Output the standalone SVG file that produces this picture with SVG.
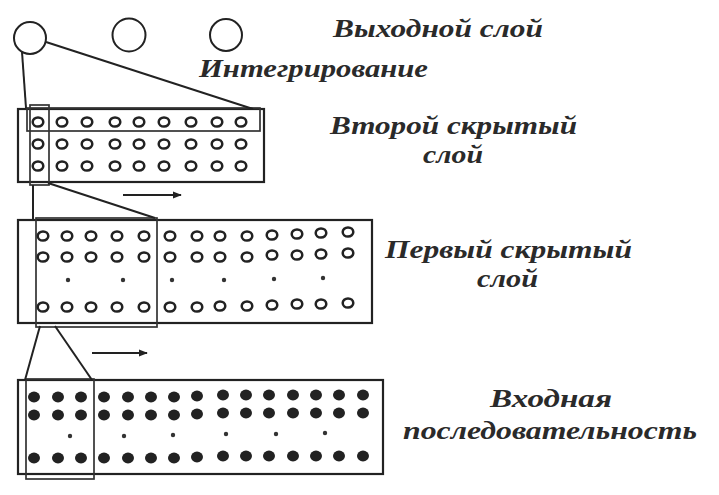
<svg xmlns="http://www.w3.org/2000/svg" width="719" height="495" viewBox="0 0 719 495">
<defs>
<style>
.box{fill:none;stroke:#222;stroke-width:2.2}
.win{fill:none;stroke:#333;stroke-width:1.7}
.out{fill:none;stroke:#222;stroke-width:2}
.ring{fill:none;stroke:#222;stroke-width:2.5}
.dot{fill:#222}
.sd{fill:#333}
.con{fill:none;stroke:#222;stroke-width:2}
.lbl{font-family:"Liberation Serif","DejaVu Serif",serif;font-style:italic;font-weight:bold;font-size:25px;fill:#2a2a2a}
</style>
<marker id="ah" viewBox="0 0 10 10" refX="9" refY="5" markerWidth="4.5" markerHeight="4.5" orient="auto" markerUnits="strokeWidth">
<path d="M0,1 L10,5 L0,9 Z" fill="#222"/>
</marker>
<ellipse id="r" class="ring" rx="5.3" ry="4.6"/>
<ellipse id="f" class="dot" rx="6" ry="5.4"/>
<circle id="s" class="sd" r="2.2"/>
</defs>
<rect width="719" height="495" fill="#fff"/>

<g id="output-layer">
<circle class="out" cx="30" cy="38" r="16"/>
<circle class="out" cx="129" cy="35" r="16.5"/>
<circle class="out" cx="226" cy="35" r="16"/>
</g>

<g id="second-hidden-layer">
<rect class="box" x="18" y="109" width="246" height="73"/>
<rect class="win" x="27" y="108" width="233" height="23"/>
<rect class="win" x="30" y="105" width="19" height="80"/>
<g>
<use href="#r" x="38" y="122"/><use href="#r" x="62" y="122"/><use href="#r" x="87" y="122"/><use href="#r" x="115" y="122"/><use href="#r" x="139" y="122"/><use href="#r" x="164" y="122"/><use href="#r" x="191" y="122"/><use href="#r" x="217" y="122"/><use href="#r" x="241" y="122"/>
<use href="#r" x="38" y="144"/><use href="#r" x="62" y="144"/><use href="#r" x="87" y="144"/><use href="#r" x="115" y="144"/><use href="#r" x="139" y="144"/><use href="#r" x="164" y="144"/><use href="#r" x="191" y="144"/><use href="#r" x="217" y="144"/><use href="#r" x="241" y="144"/>
<use href="#r" x="38" y="166"/><use href="#r" x="62" y="166"/><use href="#r" x="87" y="166"/><use href="#r" x="115" y="166"/><use href="#r" x="139" y="166"/><use href="#r" x="164" y="166"/><use href="#r" x="191" y="166"/><use href="#r" x="217" y="166"/><use href="#r" x="241" y="166"/>
</g>
</g>

<g id="first-hidden-layer">
<rect class="box" x="18" y="220" width="354" height="103"/>
<rect class="win" x="36" y="218" width="121" height="109"/>
<g>
<use href="#r" x="43" y="236"/><use href="#r" x="67" y="236"/><use href="#r" x="91" y="236"/><use href="#r" x="117" y="236"/><use href="#r" x="144" y="236"/><use href="#r" x="170" y="236"/><use href="#r" x="197" y="236"/><use href="#r" x="220" y="236"/><use href="#r" x="247" y="236"/><use href="#r" x="272" y="235"/><use href="#r" x="297" y="234"/><use href="#r" x="321" y="233"/><use href="#r" x="348" y="232"/>
<use href="#r" x="43" y="257"/><use href="#r" x="67" y="257"/><use href="#r" x="91" y="257"/><use href="#r" x="117" y="257"/><use href="#r" x="144" y="257"/><use href="#r" x="170" y="257"/><use href="#r" x="197" y="257"/><use href="#r" x="220" y="257"/><use href="#r" x="247" y="257"/><use href="#r" x="272" y="255"/><use href="#r" x="297" y="255"/><use href="#r" x="321" y="254"/><use href="#r" x="348" y="253"/>
<use href="#s" x="68" y="280"/><use href="#s" x="123" y="280"/><use href="#s" x="172" y="280"/><use href="#s" x="224" y="280"/><use href="#s" x="274" y="279"/><use href="#s" x="323" y="278"/>
<use href="#r" x="43" y="307"/><use href="#r" x="67" y="307"/><use href="#r" x="91" y="307"/><use href="#r" x="117" y="307"/><use href="#r" x="144" y="307"/><use href="#r" x="170" y="307"/><use href="#r" x="197" y="307"/><use href="#r" x="220" y="306"/><use href="#r" x="247" y="306"/><use href="#r" x="272" y="305"/><use href="#r" x="297" y="304"/><use href="#r" x="321" y="304"/><use href="#r" x="348" y="303"/>
</g>
</g>

<g id="input-sequence">
<rect class="box" x="18" y="380" width="365" height="94"/>
<rect class="win" x="26" y="379" width="68" height="100"/>
<g>
<use href="#f" x="34" y="397"/><use href="#f" x="58" y="397"/><use href="#f" x="81" y="397"/><use href="#f" x="104" y="397"/><use href="#f" x="128" y="397"/><use href="#f" x="151" y="397"/><use href="#f" x="174" y="397"/><use href="#f" x="197" y="396"/><use href="#f" x="223" y="395"/><use href="#f" x="246" y="395"/><use href="#f" x="269" y="395"/><use href="#f" x="293" y="395"/><use href="#f" x="316" y="395"/><use href="#f" x="339" y="395"/><use href="#f" x="363" y="395"/>
<use href="#f" x="34" y="415"/><use href="#f" x="58" y="415"/><use href="#f" x="81" y="415"/><use href="#f" x="104" y="415"/><use href="#f" x="128" y="415"/><use href="#f" x="151" y="415"/><use href="#f" x="174" y="415"/><use href="#f" x="197" y="414"/><use href="#f" x="223" y="413"/><use href="#f" x="246" y="413"/><use href="#f" x="269" y="413"/><use href="#f" x="293" y="413"/><use href="#f" x="316" y="413"/><use href="#f" x="339" y="413"/><use href="#f" x="363" y="413"/>
<use href="#s" x="70" y="436"/><use href="#s" x="124" y="436"/><use href="#s" x="173" y="435"/><use href="#s" x="226" y="434"/><use href="#s" x="276" y="434"/><use href="#s" x="325" y="433"/>
<use href="#f" x="34" y="458"/><use href="#f" x="58" y="458"/><use href="#f" x="81" y="458"/><use href="#f" x="104" y="458"/><use href="#f" x="128" y="458"/><use href="#f" x="151" y="458"/><use href="#f" x="174" y="458"/><use href="#f" x="197" y="457"/><use href="#f" x="223" y="456"/><use href="#f" x="246" y="456"/><use href="#f" x="269" y="456"/><use href="#f" x="293" y="456"/><use href="#f" x="316" y="456"/><use href="#f" x="339" y="456"/><use href="#f" x="363" y="456"/>
</g>
</g>

<g id="connectors">
<line class="con" x1="22" y1="52" x2="26" y2="108"/>
<line class="con" x1="46" y1="42" x2="253" y2="109"/>
<line class="con" x1="33" y1="185" x2="33" y2="220"/>
<line class="con" x1="48" y1="183" x2="155" y2="218"/>
<line class="con" x1="40" y1="326" x2="25" y2="380"/>
<line class="con" x1="55" y1="326" x2="92" y2="380"/>
<line class="con" x1="123" y1="195" x2="181" y2="195" marker-end="url(#ah)"/>
<line class="con" x1="92" y1="353" x2="147" y2="353" marker-end="url(#ah)"/>
</g>

<g id="labels">
<text class="lbl" x="333" y="37" textLength="210" lengthAdjust="spacingAndGlyphs">Выходной слой</text>
<text class="lbl" x="199" y="77" textLength="229" lengthAdjust="spacingAndGlyphs">Интегрирование</text>
<text class="lbl" x="330" y="134" textLength="247" lengthAdjust="spacingAndGlyphs">Второй скрытый</text>
<text class="lbl" x="423" y="163" textLength="60" lengthAdjust="spacingAndGlyphs">слой</text>
<text class="lbl" x="385" y="258" textLength="247" lengthAdjust="spacingAndGlyphs">Первый скрытый</text>
<text class="lbl" x="477" y="287" textLength="61" lengthAdjust="spacingAndGlyphs">слой</text>
<text class="lbl" x="490" y="407" textLength="122" lengthAdjust="spacingAndGlyphs">Входная</text>
<text class="lbl" x="403" y="439" textLength="294" lengthAdjust="spacingAndGlyphs">последовательность</text>
</g>
</svg>
